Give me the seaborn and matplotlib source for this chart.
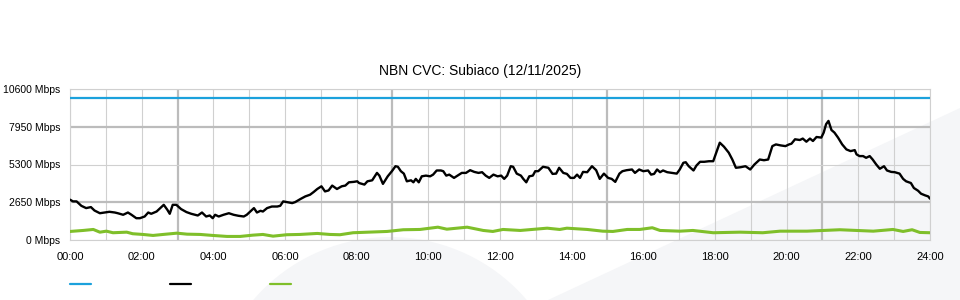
import matplotlib
matplotlib.use("Agg")
import matplotlib.pyplot as plt
from matplotlib.lines import Line2D
from matplotlib.patches import Ellipse, Polygon
import pandas as pd
import seaborn as sns

title = "NBN CVC: Subiaco (12/11/2025)"
y_ticks = [0, 2650, 5300, 7950, 10600]
y_labels = ["0 Mbps", "2650 Mbps", "5300 Mbps", "7950 Mbps", "10600 Mbps"]
x_hours = list(range(0, 25))
x_labels = ["00:00", "", "02:00", "", "04:00", "", "06:00", "", "08:00", "", "10:00", "",
            "12:00", "", "14:00", "", "16:00", "", "18:00", "", "20:00", "", "22:00", "", "24:00"]

# capacity (blue)
cap_min = [0, 1440]
cap_val = [10000, 10000]

# download (black), minutes since midnight / Mbps
dl_min = [0, 5, 11, 19, 27, 35, 41, 50, 58, 66, 75, 80, 89, 97, 103, 111, 117, 125, 131, 136,
          145, 153, 157, 163, 167, 172, 178, 186, 195, 203, 214, 221, 228, 234, 239,
          243, 249, 257, 266, 274, 282, 291, 296, 302, 308, 313, 319, 323, 330, 338, 347, 352,
          357, 363, 372, 377, 386, 394, 402, 408, 414, 421, 427, 433, 439, 447, 455, 461, 467,
          475, 481,
          484, 493, 498, 506, 514, 518, 524, 532, 539, 545, 549, 554, 559, 564, 571, 575, 579,
          584, 589, 596, 603, 608, 614, 621, 625, 630, 635, 643, 649, 656, 663, 670, 677, 684,
          690, 696, 702, 709, 716, 722,
          727, 732, 738, 742, 748, 755, 759, 764, 769, 775, 779, 784, 792, 801, 808, 814, 819,
          826, 832, 838, 844, 849, 854, 859, 866, 874, 881, 887, 894, 901, 907, 913, 920, 925,
          932, 941, 946, 953, 960,
          968, 973, 978, 983, 988, 993, 1000, 1008, 1016, 1021, 1027, 1031, 1036, 1044, 1049,
          1055, 1062, 1070, 1077, 1083, 1088, 1095, 1103, 1109, 1115, 1123, 1131, 1139, 1146,
          1155, 1162, 1169, 1176, 1182, 1190, 1198, 1204,
          1208, 1214, 1222, 1227, 1233, 1239, 1244, 1250, 1258, 1262, 1266, 1270, 1275, 1280,
          1286, 1293, 1300, 1307, 1314, 1317, 1322, 1328, 1333, 1339, 1344, 1350, 1356, 1363,
          1368, 1375, 1381, 1389, 1395, 1400, 1408, 1413, 1420, 1425, 1432, 1437, 1440]
dl_val = [2830, 2710, 2710, 2400, 2240, 2310, 2070, 1880, 1930, 1980, 1930, 1880, 1770, 1930, 1770,
          1530, 1530, 1650, 1930, 1840, 2000, 2310, 2470, 2120, 1840, 2470, 2470, 2170, 1960,
          1840, 1720, 1930, 1650, 1720, 1530,
          1770, 1650, 1770, 1880, 1770, 1700, 1650, 1770, 2000, 2240, 1930, 2050, 2000, 2240,
          2350, 2350, 2400, 2710, 2660, 2590, 2660, 2880, 3060, 3180, 3370, 3580, 3770, 3410,
          3480, 3820, 3580, 3770, 3820, 4050, 4080, 4120,
          4000, 3890, 4120, 4190, 4710, 4520, 3940, 4470, 4830, 5180, 5140, 4830, 4660, 4120,
          4190, 4050, 4290, 4050, 4470, 4520, 4470, 4590, 4880, 4880, 4830, 4520, 4590, 4360,
          4520, 4710, 4710, 4900, 4780, 4710, 4760, 4520, 4360, 4590, 4470, 4520,
          4290, 4520, 5180, 5140, 4660, 4520, 4290, 4050, 4470, 4520, 4830, 4830, 5140, 5070,
          4640, 4660, 5070, 4710, 4640, 4360, 4360, 4590, 4360, 4780, 4760, 5180, 4900, 4290,
          4660, 4360, 4290, 4080, 4660, 4830, 4900, 4950, 4710, 4950, 4830,
          4880, 4590, 4640, 4950, 4760, 4880, 4760, 4710, 4660, 4950, 5420, 5460, 5180, 4880,
          5230, 5490, 5490, 5530, 5530, 6240, 6830, 6550, 6130, 5650, 5070, 5110, 5180, 4950,
          5300, 5650, 5600, 5650, 6590, 6710, 6640, 6590, 6710,
          6760, 7070, 7020, 7120, 6900, 7120, 6950, 7230, 7190, 7540, 8130, 8360, 7720, 7540,
          7190, 6710, 6360, 6240, 6310, 6010, 5890, 5890, 5770, 5890, 5650, 5300, 5000, 5180,
          4880, 4780, 4760, 4660, 4290, 4120, 4000, 3650, 3460, 3250, 3130, 3060, 2900]

# upload (green)
ul_min = [0, 22, 39, 50, 61, 72, 95, 105, 122, 139, 156, 179, 196, 218, 239, 263, 285, 306, 323,
          340, 363, 385, 414, 435, 452, 474, 531, 558, 586, 616, 631, 665, 692, 708, 725, 754,
          799, 820, 832, 866, 892, 909, 933, 954, 975, 988, 1021, 1043, 1077, 1122, 1160, 1189,
          1234, 1289, 1345, 1378, 1395, 1410, 1423, 1440]
ul_val = [600, 670, 740, 550, 620, 510, 550, 440, 390, 320, 390, 480, 410, 390, 320, 250, 250,
          340, 390, 270, 370, 390, 460, 390, 370, 510, 600, 720, 740, 900, 760, 900, 670, 600,
          740, 670, 830, 740, 830, 740, 620, 600, 740, 740, 860, 670, 620, 670, 510, 550, 510,
          620, 620, 720, 620, 740, 600, 720, 530, 510]

BLUE = "#1ba1dc"
BLACK = "#000000"
GREEN = "#7fbf2a"
GRID_LIGHT = "#d0d0d0"
GRID_DARK = "#bcbcbc"
WATERMARK = "#f5f6f8"

sns.set_style("white")
plt.rcParams["font.family"] = ["Liberation Sans", "DejaVu Sans"]

fig = plt.figure(figsize=(9.6, 3.0), dpi=100)

# faint background watermark shapes (behind the axes)
fig.patches.append(Ellipse((390 / 960, 1 - 417 / 300), 360 / 960, 360 / 300,
                           transform=fig.transFigure, facecolor=WATERMARK, edgecolor="none",
                           zorder=-5))
fig.patches.append(Polygon([(548 / 960, 0), (1, 1 - 108 / 300), (1, 0)], closed=True,
                           transform=fig.transFigure, facecolor=WATERMARK, edgecolor="none",
                           zorder=-5))

ax = fig.add_axes([70 / 960, 60 / 300, 860 / 960, 151 / 300])
ax.patch.set_alpha(0)

cap = pd.DataFrame({"h": [m / 60 for m in cap_min], "v": cap_val})
dl = pd.DataFrame({"h": [m / 60 for m in dl_min], "v": dl_val})
ul = pd.DataFrame({"h": [m / 60 for m in ul_min], "v": ul_val})

sns.lineplot(data=cap, x="h", y="v", color=BLUE, lw=1.6, ax=ax, zorder=3)
sns.lineplot(data=ul, x="h", y="v", color=GREEN, lw=2.2, ax=ax, zorder=3)
sns.lineplot(data=dl, x="h", y="v", color=BLACK, lw=1.7, ax=ax, zorder=4)

ax.set_xlim(0, 24)
ax.set_ylim(0, 10600)
ax.set_xlabel("")
ax.set_ylabel("")
ax.set_xticks(x_hours)
ax.set_xticklabels(x_labels)
ax.set_yticks(y_ticks)
ax.set_yticklabels(y_labels)
ax.tick_params(axis="x", length=8, width=0.8, color=GRID_LIGHT, pad=1, labelsize=8,
               labelcolor="#000000")
ax.tick_params(axis="y", length=0, pad=7, labelsize=7.5, labelcolor="#000000")
ax.grid(True, color=GRID_LIGHT, lw=0.8)
ax.set_axisbelow(True)

xticks = ax.xaxis.get_major_ticks()
xgrid = ax.get_xgridlines()
for i in (3, 9, 15, 21):
    xgrid[i].set_color(GRID_DARK)
    xgrid[i].set_linewidth(1.6)
    xticks[i].tick1line.set_color(GRID_DARK)
    xticks[i].tick1line.set_markeredgewidth(1.6)
ygrid = ax.get_ygridlines()
for i in (1, 3):
    ygrid[i].set_color(GRID_DARK)
    ygrid[i].set_linewidth(1.6)

for s in ax.spines.values():
    s.set_color(GRID_LIGHT)
    s.set_linewidth(0.8)

fig.text(480 / 960, 1 - 71 / 300, title, ha="center", va="center", fontsize=10, color="#000000")

handles = [Line2D([], [], color=c, lw=1.6) for c in (BLUE, BLACK, GREEN)]
fig.legend(handles, ["", "", ""], loc="center left", bbox_to_anchor=(70 / 960, 1 - 285 / 300),
           ncol=3, frameon=False, handlelength=1.9, handletextpad=0, columnspacing=7.1,
           fontsize=8, borderpad=0, borderaxespad=0)

fig.savefig("out.png", dpi=100)
